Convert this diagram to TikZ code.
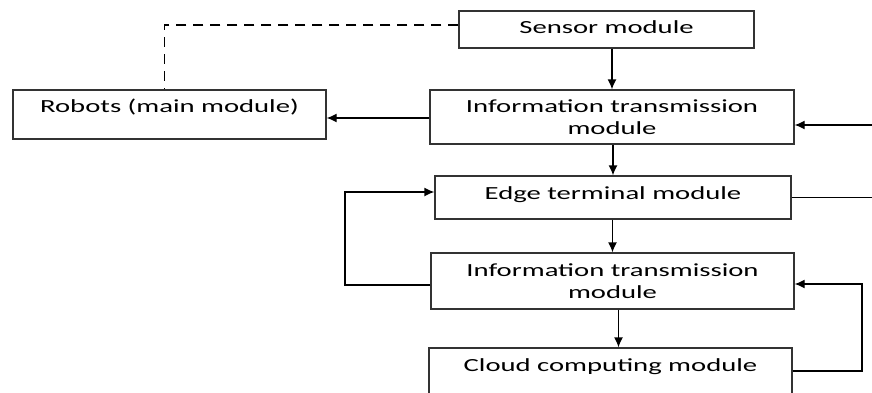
\documentclass[tikz,border=0pt]{standalone}
\usepackage{fontspec}
\setmainfont{Carlito}[FakeStretch=1.55]
\usepackage{tikz}
\usetikzlibrary{calc,positioning,arrows.meta}

\begin{document}
\begin{tikzpicture}[x=1pt,y=-1pt,inner sep=0pt,
  module/.style={draw=black!80,line width=1.3pt,align=center,
    font=\fontsize{18.5}{22}\selectfont},
  arr/.style={line width=1.3pt,-{Latex[length=10pt,width=9pt]}},
  link/.style={line width=1.3pt}]
\useasboundingbox (0,0) rectangle (872,392);
\clip (0,0) rectangle (872,392);
\coordinate (far) at (900,125);
\coordinate (back) at (345,0);
\coordinate (side) at (862,0);
\node (sensor) at (606.5,29.5) [module,minimum width=295pt,text height=22pt,text depth=15pt] {Sensor module};
\node (info1) at (612,117) [module,minimum width=364pt,minimum height=54pt] {Information transmission\\module};
\node (robots) at (169.5,114.5) [module,minimum width=313pt,text height=22pt,text depth=27pt] {Robots (main module)};
\node (edge) at (613,197.5) [module,minimum width=356pt,text height=23pt,text depth=20pt] {Edge terminal module};
\node (info2) at (612.5,281) [module,minimum width=363pt,minimum height=56pt] {Information transmission\\module};
\node (cloud) at (610.5,379) [module,minimum width=363pt,text height=23pt,text depth=39pt] {Cloud computing module};
\coordinate (edgein) at ([yshift=5.5pt]edge.west);
\coordinate (info2in) at ([yshift=-3pt]info2.east);
\draw[link,dashed,dash pattern=on 10pt off 7pt] ([yshift=4.5pt]sensor.west) -| ([xshift=-5pt]robots.north);
\draw[arr] ([yshift=-1pt]info1.west) -- ([yshift=-1pt]info1.west -| robots.east);
\draw[arr] (sensor.south -| info1.north) -- (info1.north);
\draw[arr] (info1.south -| edge.north) -- (edge.north);
\draw[arr] (edge.south -| info2.north) -- (info2.north);
\draw[arr] ([xshift=6pt]info2.south) -- ([xshift=6pt]info2.south |- cloud.north);
\draw[arr] (edge.east) -| (far) -- ([yshift=-8pt]info1.east);
\draw[arr] ([yshift=-4pt]info2.west) -| (back |- edgein) -- (edgein);
\draw[arr] ([yshift=8pt]cloud.east) -| (side |- info2in) -- (info2in);
\end{tikzpicture}
\end{document}
